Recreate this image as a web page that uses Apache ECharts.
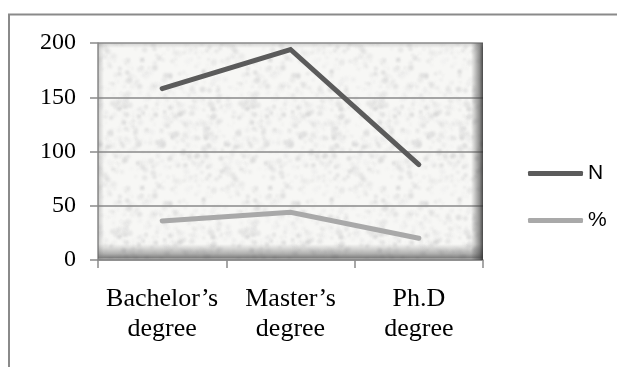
<!DOCTYPE html>
<html>
<head>
<meta charset="utf-8">
<script src="https://cdn.jsdelivr.net/npm/echarts@6/dist/echarts.min.js"></script>
<style>
  html, body { margin: 0; padding: 0; background: #ffffff; }
  #chart { width: 617px; height: 367px; }
</style>
</head>
<body>
<div id="chart"></div>
<script>
// Degree levels along the category axis
const categories = ['Bachelor\u2019s\ndegree', 'Master\u2019s\ndegree', 'Ph.D\ndegree'];
// Respondent counts and their share in percent
const countN = [158, 194, 88];
const percentShare = [36, 44, 20];
const seriesNames = ['N', '%'];
const yTicks = { min: 0, max: 200, step: 50 };

// Plot-area placement in pixels
const G = { left: 98, right: 134, top: 43, bottom: 107 };
const W = 617, H = 367;

// Speckled stone-like fill for the plot area (seeded so it is stable)
function makeTexture() {
  const size = 128;
  const c = document.createElement('canvas');
  c.width = size; c.height = size;
  const ctx = c.getContext('2d');
  ctx.fillStyle = '#f7f7f5';
  ctx.fillRect(0, 0, size, size);
  let seed = 12345;
  const rnd = () => { seed = (seed * 1103515245 + 12345) & 0x7fffffff; return seed / 0x7fffffff; };
  ctx.filter = 'blur(1.2px)';
  for (let i = 0; i < 520; i++) {
    const x = rnd() * size, y = rnd() * size;
    const r = 0.8 + rnd() * 2.2;
    const g = Math.round(200 + rnd() * 40);
    ctx.fillStyle = 'rgba(' + g + ',' + g + ',' + g + ',' + (0.25 + rnd() * 0.35) + ')';
    for (const dx of [-size, 0, size]) for (const dy of [-size, 0, size]) {
      ctx.beginPath();
      ctx.arc(x + dx, y + dy, r, 0, Math.PI * 2);
      ctx.fill();
    }
  }
  ctx.filter = 'none';
  return c;
}

const chart = echarts.init(document.getElementById('chart'), null, { renderer: 'canvas' });

const px0 = G.left, px1 = W - G.right, py0 = G.top, py1 = H - G.bottom;

const option = {
  backgroundColor: '#ffffff',
  animation: false,
  grid: {
    left: G.left, right: G.right, top: G.top, bottom: G.bottom,
    show: true,
    backgroundColor: { image: makeTexture(), repeat: 'repeat' },
    borderWidth: 0
  },
  legend: {
    orient: 'vertical',
    left: 523, top: 158,
    itemWidth: 55, itemHeight: 5,
    itemGap: 26,
    icon: 'roundRect',
    textStyle: { fontFamily: 'Liberation Sans, Arial, sans-serif', fontSize: 21, color: '#000000' },
    data: seriesNames
  },
  graphic: [
    // bottom inner shading of the plot frame
    {
      type: 'rect', silent: true, z: 1,
      shape: { x: px0, y: py1 - 16, width: px1 - px0, height: 16 },
      style: {
        fill: new echarts.graphic.LinearGradient(0, 0, 0, 1, [
          { offset: 0, color: 'rgba(90,90,90,0)' },
          { offset: 0.6, color: 'rgba(90,90,90,0.45)' },
          { offset: 0.85, color: 'rgba(80,80,80,0.7)' },
          { offset: 1, color: 'rgba(150,150,150,0.5)' }
        ])
      }
    },
    // right inner shading
    {
      type: 'rect', silent: true, z: 1,
      shape: { x: px1 - 12, y: py0, width: 12, height: py1 - py0 },
      style: {
        fill: new echarts.graphic.LinearGradient(0, 0, 1, 0, [
          { offset: 0, color: 'rgba(60,60,60,0)' },
          { offset: 0.7, color: 'rgba(60,60,60,0.55)' },
          { offset: 1, color: 'rgba(40,40,40,0.85)' }
        ])
      }
    },
    // faint left and top inner shading
    {
      type: 'rect', silent: true, z: 1,
      shape: { x: px0, y: py0, width: 6, height: py1 - py0 },
      style: {
        fill: new echarts.graphic.LinearGradient(0, 0, 1, 0, [
          { offset: 0, color: 'rgba(120,120,120,0.35)' },
          { offset: 1, color: 'rgba(120,120,120,0)' }
        ])
      }
    },
    {
      type: 'rect', silent: true, z: 1,
      shape: { x: px0, y: py0, width: px1 - px0, height: 5 },
      style: {
        fill: new echarts.graphic.LinearGradient(0, 0, 0, 1, [
          { offset: 0, color: 'rgba(140,140,140,0.35)' },
          { offset: 1, color: 'rgba(140,140,140,0)' }
        ])
      }
    },
    // outer chart frame
    {
      type: 'rect', silent: true, z: 0,
      shape: { x: 9, y: 14.5, width: 1000, height: 1000 },
      style: { fill: null, stroke: '#8a8a8a', lineWidth: 2 }
    }
  ],
  xAxis: {
    type: 'category',
    data: categories,
    boundaryGap: true,
    axisLine: { show: true, lineStyle: { color: '#8a8a8a', width: 1.5 } },
    axisTick: { show: true, length: 8, alignWithLabel: false, lineStyle: { color: '#8a8a8a', width: 1.5 } },
    axisLabel: {
      interval: 0,
      hideOverlap: false,
      margin: 24,
      fontFamily: 'Liberation Serif, Times New Roman, serif',
      fontSize: 26, lineHeight: 30, color: '#000000', align: 'center'
    },
    splitLine: { show: false }
  },
  yAxis: {
    type: 'value',
    min: yTicks.min, max: yTicks.max, interval: yTicks.step,
    axisLine: { show: true, lineStyle: { color: '#8a8a8a', width: 1.5 } },
    axisTick: { show: true, length: 8, lineStyle: { color: '#8a8a8a', width: 1.5 } },
    axisLabel: {
      margin: 22,
      fontFamily: 'Liberation Serif, Times New Roman, serif',
      fontSize: 24, color: '#000000'
    },
    splitLine: { show: true, lineStyle: { color: '#8a8a8a', width: 1.5 } }
  },
  series: [
    {
      name: seriesNames[0], type: 'line', data: countN,
      symbol: 'none', z: 5,
      lineStyle: { color: '#5b5b5b', width: 5, cap: 'round', join: 'miter' },
      itemStyle: { color: '#5b5b5b' }
    },
    {
      name: seriesNames[1], type: 'line', data: percentShare,
      symbol: 'none', z: 5,
      lineStyle: { color: '#a9a9a9', width: 5, cap: 'round', join: 'miter' },
      itemStyle: { color: '#a9a9a9' }
    }
  ]
};

chart.setOption(option);
</script>
</body>
</html>
